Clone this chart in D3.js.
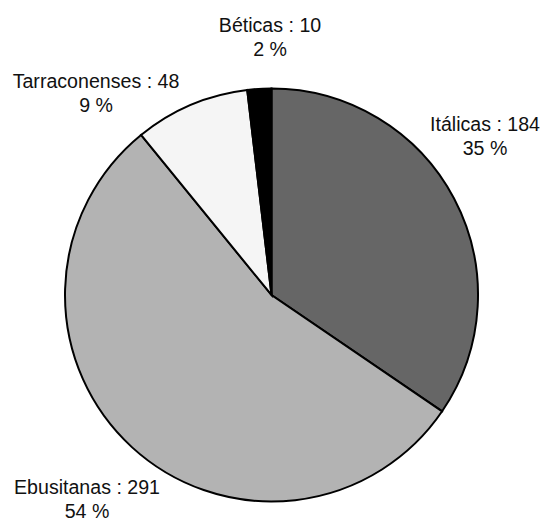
<!DOCTYPE html>
<html>
<head>
<meta charset="utf-8">
<script src="https://cdn.jsdelivr.net/npm/d3@7"></script>
<style>
  html, body { margin: 0; padding: 0; background: #fff; }
  svg { display: block; }
  text { font-family: "Liberation Sans", Arial, sans-serif; font-size: 19.6px; fill: #111; }
</style>
</head>
<body>
<svg id="chart" width="542" height="521"></svg>
<script>
// Amphora provenance counts
const categories = ["Itálicas", "Ebusitanas", "Tarraconenses", "Béticas"];
const counts = [184, 291, 48, 10];
const percentLabels = ["35 %", "54 %", "9 %", "2 %"];
const fills = ["#666666", "#b3b3b3", "#f5f5f5", "#000000"];

const width = 542, height = 521;
const cx = 271.5, cy = 295, radius = 206.5;

const svg = d3.select("#chart");
const g = svg.append("g").attr("transform", `translate(${cx},${cy})`);

const pie = d3.pie().sort(null).value(d => d)(counts);
const arc = d3.arc().innerRadius(0).outerRadius(radius);

g.selectAll("path.slice")
  .data(pie)
  .join("path")
  .attr("class", "slice")
  .attr("d", arc)
  .attr("fill", (d, i) => fills[i])
  .attr("stroke", "#000")
  .attr("stroke-width", 2)
  .attr("stroke-linejoin", "miter");

// Label anchor points (centre of the first line's baseline), in page space
const labelAnchors = [[485, 131], [87, 494], [96, 88], [270, 32]];
const lineGap = 24;

const labels = svg.selectAll("g.label")
  .data(categories)
  .join("g")
  .attr("class", "label")
  .attr("transform", (d, i) => `translate(${labelAnchors[i][0]},${labelAnchors[i][1]})`);

labels.append("text")
  .attr("text-anchor", "middle")
  .text((d, i) => `${d} : ${counts[i]}`);

labels.append("text")
  .attr("text-anchor", "middle")
  .attr("y", lineGap)
  .text((d, i) => percentLabels[i]);
</script>
</body>
</html>
